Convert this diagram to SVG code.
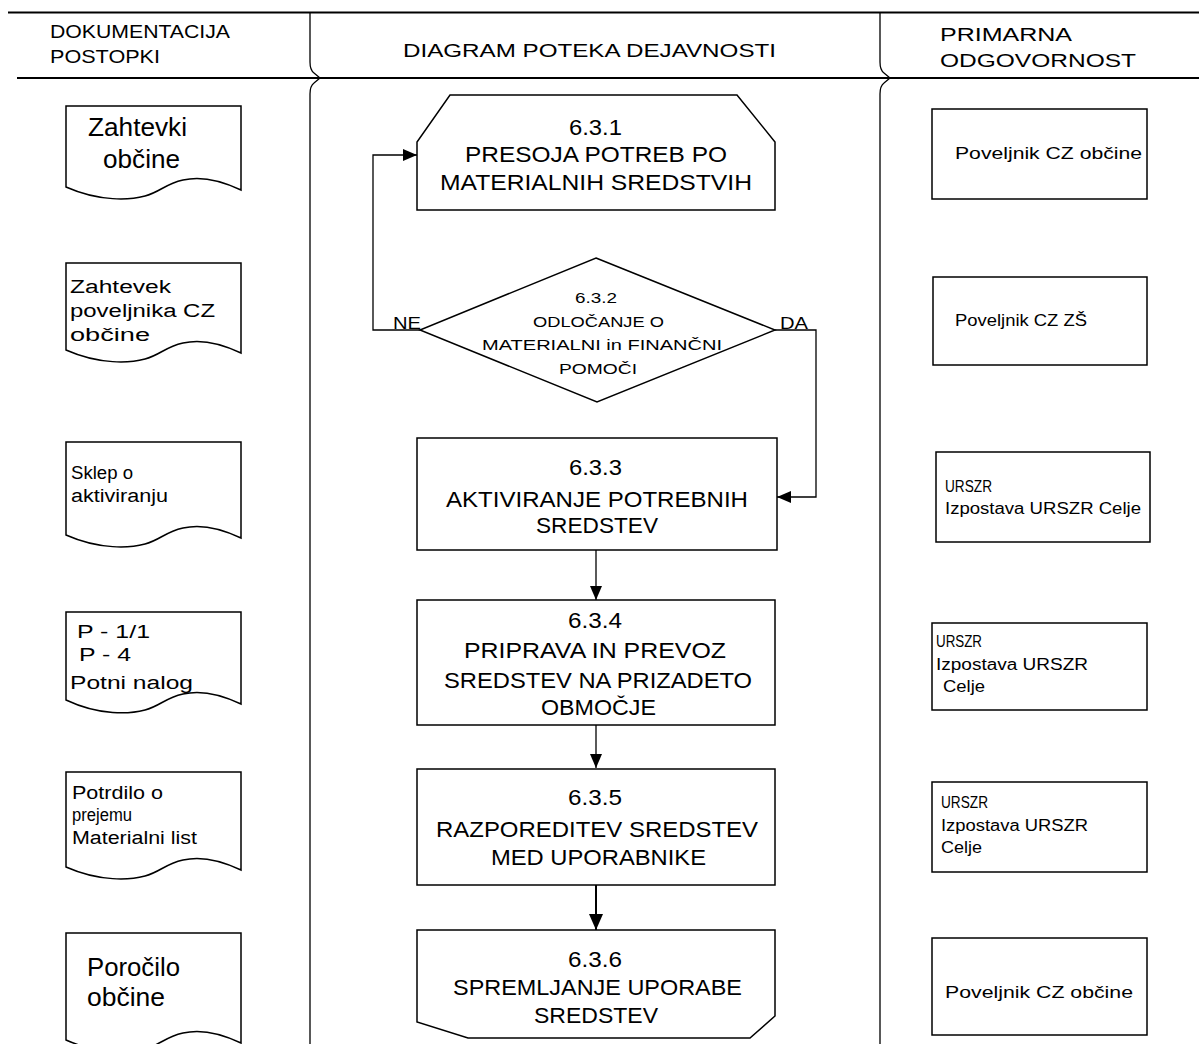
<svg xmlns="http://www.w3.org/2000/svg" width="1199" height="1044" viewBox="0 0 1199 1044">
<defs>
<marker id="ah" viewBox="0 0 14 12" refX="14" refY="6" markerWidth="14" markerHeight="12" markerUnits="userSpaceOnUse" orient="auto">
<path d="M0,0 L14,6 L0,12 Z" fill="#000"/>
</marker>
<marker id="ahb" viewBox="0 0 16 14" refX="16" refY="7" markerWidth="16" markerHeight="14" markerUnits="userSpaceOnUse" orient="auto">
<path d="M0,0 L16,7 L0,14 Z" fill="#000"/>
</marker>
</defs>
<style>
text{font-family:"Liberation Sans",Arial,sans-serif;fill:#000}
.hd{font-size:19px}
.c{font-size:22px}
.d{font-size:15px}
.doc{font-size:18px}
.big{font-size:26px}
.r{font-size:16px}
.s{fill:#fff;stroke:#000;stroke-width:1.5}
.ln{fill:none;stroke:#000;stroke-width:1.3}
.cn{fill:none;stroke:#000;stroke-width:1.3}
</style>
<rect width="1199" height="1044" fill="#fff"/>
<g id="frame">
<line x1="8" y1="12.5" x2="1199" y2="12.5" stroke="#000" stroke-width="2"/>
<line x1="17" y1="78" x2="1199" y2="78" stroke="#000" stroke-width="2"/>
<path class="ln" d="M310,12 V62 Q310,70 314,73 L320,78 L314,83 Q310,86 310,94 V1044"/>
<path class="ln" d="M880,12 V62 Q880,70 884,73 L890,78 L884,83 Q880,86 880,94 V1044"/>
<text class="hd" x="50" y="38" textLength="180" lengthAdjust="spacingAndGlyphs">DOKUMENTACIJA</text>
<text class="hd" x="50" y="63" textLength="110" lengthAdjust="spacingAndGlyphs">POSTOPKI</text>
<text class="hd" x="403" y="57" textLength="373" lengthAdjust="spacingAndGlyphs">DIAGRAM POTEKA DEJAVNOSTI</text>
<text class="hd" x="940" y="41" textLength="132" lengthAdjust="spacingAndGlyphs">PRIMARNA</text>
<text class="hd" x="940" y="67" textLength="196" lengthAdjust="spacingAndGlyphs">ODGOVORNOST</text>
</g>
<g id="connectors">
<polyline class="cn" points="420,330 373,330 373,155 417,155" marker-end="url(#ah)"/>
<polyline class="cn" points="775,330 816,330 816,497 777,497" marker-end="url(#ah)"/>
<line class="cn" x1="596" y1="550" x2="596" y2="600" marker-end="url(#ah)"/>
<line class="cn" x1="596" y1="725" x2="596" y2="768" marker-end="url(#ah)"/>
<line x1="596" y1="885" x2="596" y2="930" stroke="#000" stroke-width="2" marker-end="url(#ahb)"/>
<text x="393" y="329" font-size="17" textLength="28" lengthAdjust="spacingAndGlyphs">NE</text>
<text x="780" y="329" font-size="17" textLength="28" lengthAdjust="spacingAndGlyphs">DA</text>
</g>
<g id="doc1">
<path class="s" d="M66,187 V106 H241 V190 C220,180 200,176 183,180 C165,184 160,192 145,196 C130,200 100,202 66,187 Z"/>
<text class="big" x="88" y="136" textLength="99" lengthAdjust="spacingAndGlyphs">Zahtevki</text>
<text class="big" x="103" y="168" textLength="77" lengthAdjust="spacingAndGlyphs">občine</text>
</g>
<g id="doc2">
<path class="s" d="M66,350 V263 H241 V353 C220,343 200,339 183,343 C165,347 160,355 145,359 C130,363 100,365 66,350 Z"/>
<text class="doc" x="70" y="293" textLength="101" lengthAdjust="spacingAndGlyphs">Zahtevek</text>
<text class="doc" x="70" y="317" textLength="145" lengthAdjust="spacingAndGlyphs">poveljnika CZ</text>
<text class="doc" x="70" y="341" textLength="80" lengthAdjust="spacingAndGlyphs">občine</text>
</g>
<g id="doc3">
<path class="s" d="M66,535 V442 H241 V538 C220,528 200,524 183,528 C165,532 160,540 145,544 C130,548 100,550 66,535 Z"/>
<text class="doc" x="71" y="479" textLength="62" lengthAdjust="spacingAndGlyphs">Sklep o</text>
<text class="doc" x="71" y="502" textLength="97" lengthAdjust="spacingAndGlyphs">aktiviranju</text>
</g>
<g id="doc4">
<path class="s" d="M66,700 V612 H241 V704 C220,694 200,690 183,694 C165,698 160,706 145,710 C130,714 100,716 66,700 Z"/>
<text class="doc" x="77" y="638" textLength="73" lengthAdjust="spacingAndGlyphs">P - 1/1</text>
<text class="doc" x="79" y="661" textLength="52" lengthAdjust="spacingAndGlyphs">P - 4</text>
<text class="doc" x="70" y="689" textLength="123" lengthAdjust="spacingAndGlyphs">Potni nalog</text>
</g>
<g id="doc5">
<path class="s" d="M66,867 V772 H241 V870 C220,860 200,856 183,860 C165,864 160,872 145,876 C130,880 100,882 66,867 Z"/>
<text class="doc" x="72" y="799" textLength="91" lengthAdjust="spacingAndGlyphs">Potrdilo o</text>
<text class="doc" x="72" y="821" textLength="60" lengthAdjust="spacingAndGlyphs">prejemu</text>
<text class="doc" x="72" y="844" textLength="125" lengthAdjust="spacingAndGlyphs">Materialni list</text>
</g>
<g id="doc6">
<path class="s" d="M66,1040 V933 H241 V1043 C220,1033 200,1029 183,1033 C165,1037 160,1045 145,1049 C130,1053 100,1055 66,1040 Z"/>
<text class="big" x="87" y="976" textLength="93" lengthAdjust="spacingAndGlyphs">Poročilo</text>
<text class="big" x="87" y="1006" textLength="78" lengthAdjust="spacingAndGlyphs">občine</text>
</g>
<g id="n631">
<path class="s" d="M417,210 V142 L450,95 H737 L775,142 V210 Z"/>
<text class="c" x="569" y="135" textLength="53" lengthAdjust="spacingAndGlyphs">6.3.1</text>
<text class="c" x="465" y="162" textLength="262" lengthAdjust="spacingAndGlyphs">PRESOJA POTREB PO</text>
<text class="c" x="440" y="190" textLength="312" lengthAdjust="spacingAndGlyphs">MATERIALNIH SREDSTVIH</text>
</g>
<g id="n632">
<path class="s" d="M596,258 L775,330 L597,402 L420,330 Z"/>
<text class="d" x="575" y="303" textLength="42" lengthAdjust="spacingAndGlyphs">6.3.2</text>
<text class="d" x="533" y="327" textLength="131" lengthAdjust="spacingAndGlyphs">ODLOČANJE O</text>
<text class="d" x="482" y="350" textLength="240" lengthAdjust="spacingAndGlyphs">MATERIALNI in FINANČNI</text>
<text class="d" x="559" y="374" textLength="78" lengthAdjust="spacingAndGlyphs">POMOČI</text>
</g>
<g id="n633">
<rect class="s" x="417" y="438" width="360" height="112"/>
<text class="c" x="569" y="475" textLength="53" lengthAdjust="spacingAndGlyphs">6.3.3</text>
<text class="c" x="446" y="507" textLength="302" lengthAdjust="spacingAndGlyphs">AKTIVIRANJE POTREBNIH</text>
<text class="c" x="536" y="533" textLength="122" lengthAdjust="spacingAndGlyphs">SREDSTEV</text>
</g>
<g id="n634">
<rect class="s" x="417" y="600" width="358" height="125"/>
<text class="c" x="568" y="628" textLength="54" lengthAdjust="spacingAndGlyphs">6.3.4</text>
<text class="c" x="464" y="658" textLength="262" lengthAdjust="spacingAndGlyphs">PRIPRAVA IN PREVOZ</text>
<text class="c" x="444" y="688" textLength="308" lengthAdjust="spacingAndGlyphs">SREDSTEV NA PRIZADETO</text>
<text class="c" x="541" y="715" textLength="115" lengthAdjust="spacingAndGlyphs">OBMOČJE</text>
</g>
<g id="n635">
<rect class="s" x="417" y="769" width="358" height="116"/>
<text class="c" x="568" y="805" textLength="54" lengthAdjust="spacingAndGlyphs">6.3.5</text>
<text class="c" x="436" y="837" textLength="322" lengthAdjust="spacingAndGlyphs">RAZPOREDITEV SREDSTEV</text>
<text class="c" x="491" y="865" textLength="215" lengthAdjust="spacingAndGlyphs">MED UPORABNIKE</text>
</g>
<g id="n636">
<path class="s" d="M417,930 H775 V1016 L750,1038 H468 L417,1022 Z"/>
<text class="c" x="568" y="967" textLength="54" lengthAdjust="spacingAndGlyphs">6.3.6</text>
<text class="c" x="453" y="995" textLength="289" lengthAdjust="spacingAndGlyphs">SPREMLJANJE UPORABE</text>
<text class="c" x="534" y="1023" textLength="124" lengthAdjust="spacingAndGlyphs">SREDSTEV</text>
</g>
<g id="r1">
<rect class="s" x="932" y="109" width="215" height="90"/>
<text class="r" x="955" y="159" textLength="187" lengthAdjust="spacingAndGlyphs">Poveljnik CZ občine</text>
</g>
<g id="r2">
<rect class="s" x="933" y="277" width="214" height="88"/>
<text class="r" x="955" y="326" textLength="132" lengthAdjust="spacingAndGlyphs">Poveljnik CZ ZŠ</text>
</g>
<g id="r3">
<rect class="s" x="936" y="452" width="214" height="90"/>
<text class="r" x="945" y="492" textLength="47" lengthAdjust="spacingAndGlyphs">URSZR</text>
<text class="r" x="945" y="514" textLength="196" lengthAdjust="spacingAndGlyphs">Izpostava URSZR Celje</text>
</g>
<g id="r4">
<rect class="s" x="932" y="623" width="215" height="87"/>
<text class="r" x="936" y="647" textLength="46" lengthAdjust="spacingAndGlyphs">URSZR</text>
<text class="r" x="936" y="670" textLength="152" lengthAdjust="spacingAndGlyphs">Izpostava URSZR</text>
<text class="r" x="943" y="692" textLength="42" lengthAdjust="spacingAndGlyphs">Celje</text>
</g>
<g id="r5">
<rect class="s" x="932" y="782" width="215" height="90"/>
<text class="r" x="941" y="808" textLength="47" lengthAdjust="spacingAndGlyphs">URSZR</text>
<text class="r" x="941" y="831" textLength="147" lengthAdjust="spacingAndGlyphs">Izpostava URSZR</text>
<text class="r" x="941" y="853" textLength="41" lengthAdjust="spacingAndGlyphs">Celje</text>
</g>
<g id="r6">
<rect class="s" x="932" y="938" width="215" height="97"/>
<text class="r" x="945" y="998" textLength="188" lengthAdjust="spacingAndGlyphs">Poveljnik CZ občine</text>
</g>
</svg>
